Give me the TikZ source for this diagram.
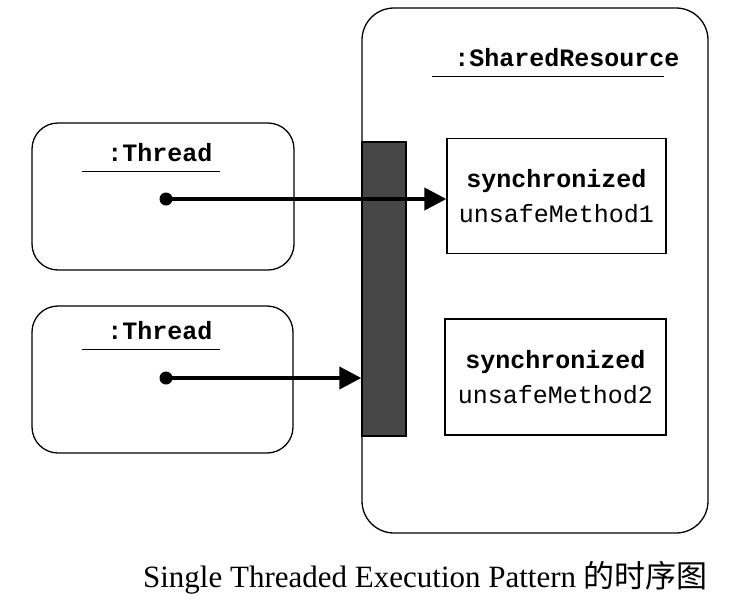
\documentclass[tikz,border=0pt]{standalone}
\usepackage{fontspec}
\setmainfont{Liberation Serif}
\setmonofont{Liberation Mono}
\newfontfamily\cjk{Noto Sans CJK SC}
\usetikzlibrary{calc, arrows.meta}

\begin{document}
\begin{tikzpicture}[x=1pt, y=-1pt, line width=1.3pt,
objbox/.style = {shape=rectangle, rounded corners=26pt, draw},
methbox/.style = {shape=rectangle, draw, align=center,
    font=\fontsize{25}{35}\selectfont\ttfamily},
objname/.style = {font=\fontsize{25}{30}\selectfont\ttfamily\bfseries, inner sep=2pt},
call/.style = {line width=4pt, -{Triangle[length=22pt,width=22pt]}},
dot/.style = {circle, fill, inner sep=0pt, minimum size=13pt}]
\useasboundingbox (0,0) rectangle (736,603);

% shared resource object
\node [objbox, rounded corners=32pt, minimum width=346pt, minimum height=525pt] (shared) at (535,270.5) {};
\node [objname] (sharedname) at (567,58) {:SharedResource};
\draw ([xshift=-20pt, yshift=-7pt]sharedname.south west) -- ([xshift=-18pt, yshift=-7pt]sharedname.south east);
\node [draw, fill=black!72, minimum width=44pt, minimum height=294pt] (lock) at (384,289) {};
\node [methbox, minimum width=219pt, minimum height=115pt] (meth1) at (556.5,196)
    {\textbf{synchronized}\\unsafeMethod1};
\node [methbox, minimum width=221pt, minimum height=116pt] (meth2) at (555.5,377)
    {\textbf{synchronized}\\unsafeMethod2};

% threads
\node [objbox, minimum width=262pt, minimum height=147pt] (thread1) at (163,196.5) {};
\node [objname] (thread1name) at (160,153) {:Thread};
\draw ([xshift=-23pt, yshift=-7pt]thread1name.south west) -- ([xshift=5pt, yshift=-7pt]thread1name.south east);
\node [dot] (dot1) at (166,199) {};

\node [objbox, minimum width=261pt, minimum height=147pt] (thread2) at (162.5,379.5) {};
\node [objname] (thread2name) at (160,331) {:Thread};
\draw ([xshift=-23pt, yshift=-7pt]thread2name.south west) -- ([xshift=5pt, yshift=-7pt]thread2name.south east);
\node [dot] (dot2) at (166,378) {};

\draw [call] (dot1.center) -- (dot1 -| meth1.west);
\draw [call] (dot2.center) -- (dot2 -| lock.west);

\node [font=\fontsize{31}{36}\selectfont] (caption) at (425.5,578)
    {Single Threaded Execution Pattern {\cjk 的时序图}};
\end{tikzpicture}
\end{document}
